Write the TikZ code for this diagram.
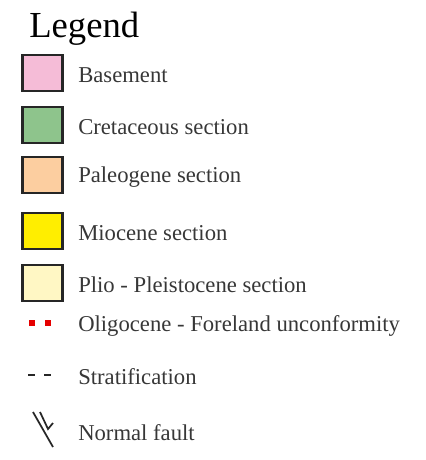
\documentclass[tikz,border=0pt]{standalone}
\usepackage{fontspec}
\setmainfont{Liberation Serif}
\usepackage{xcolor}
\usetikzlibrary{positioning}

\definecolor{basement}{RGB}{245,188,215}
\definecolor{cretaceous}{RGB}{142,196,140}
\definecolor{paleogene}{RGB}{252,206,160}
\definecolor{miocene}{RGB}{255,238,0}
\definecolor{plio}{RGB}{255,247,196}
\definecolor{txt}{RGB}{55,55,55}

\tikzset{
    unitbox/.style={draw=black!85, line width=1.7pt, minimum width=30pt, minimum height=27pt, inner sep=0pt},
    unitlabel/.style={anchor=west, inner sep=0pt, text=txt, font=\fontsize{17}{20}\selectfont}
}

\begin{document}
\begin{tikzpicture}[x=0.75pt, y=-0.75pt]
    \useasboundingbox (0,0) rectangle (425,460);

    % Title
    \node[anchor=base west, inner sep=0pt, font=\fontsize{27.5}{30}\selectfont] (title) at (29,38) {Legend};

    % Coloured units
    \foreach \y/\c/\n/\t in {73/basement/base/Basement, 125/cretaceous/cret/Cretaceous section,
                             175/paleogene/paleo/Paleogene section, 231/miocene/mio/Miocene section,
                             283/plio/plio/Plio - Pleistocene section} {
        \node[unitbox, fill=\c] (\n box) at (42.5,\y) {};
        \node[unitlabel] (\n) at (78,\y+2) {\t};
    }

    % Unconformity
    \node[unitlabel] (olig) at (78,326) {Oligocene - Foreland unconformity};
    \fill[red!90!black] (29,320) rectangle (35,326);
    \fill[red!90!black] (45,320) rectangle (51,326);

    % Stratification
    \node[unitlabel] (strat) at (78,377) {Stratification};
    \draw[line width=1.3pt, black!85] (28,375) -- (35,375);
    \draw[line width=1.3pt, black!85] (44,375) -- (51,375);

    % Normal fault
    \node[unitlabel] (fault) at (78,433) {Normal fault};
    \draw[line width=1.3pt, black!85] (33,412) -- (53,447);
    \draw[line width=1.3pt, black!85] (40,412) -- (48,429) -- (53,423);
\end{tikzpicture}
\end{document}
